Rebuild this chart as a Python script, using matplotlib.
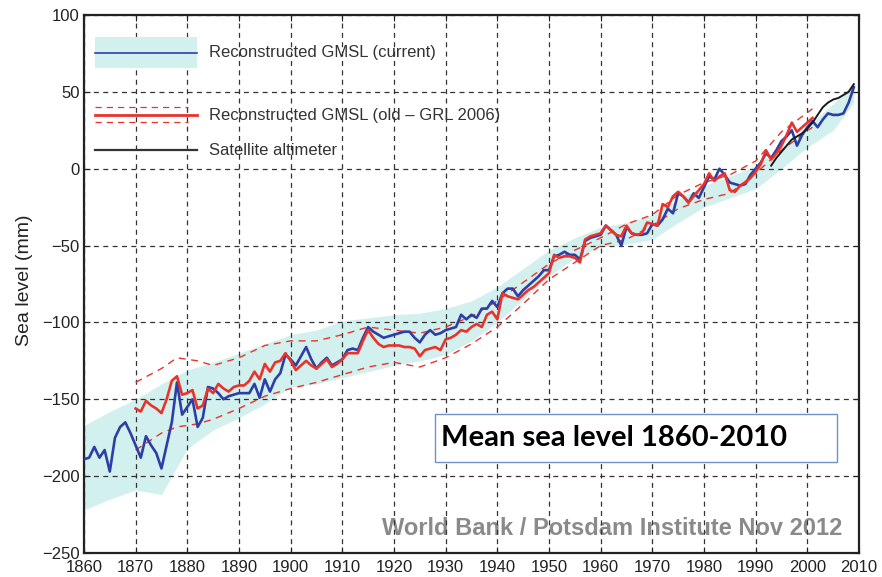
import matplotlib
matplotlib.use("Agg")
import matplotlib.pyplot as plt
from matplotlib.patches import Rectangle
import numpy as np

# current reconstruction (mm)
years_cur = list(range(1860, 2010))
gmsl_cur = [-189, -188, -181, -188, -183, -197, -175, -168, -165, -172,
            -180, -188, -174, -180, -185, -195, -180, -165, -139, -160,
            -155, -150, -168, -162, -142, -143, -146, -150, -148, -147,
            -146, -146, -146, -140, -149, -137, -145, -137, -133, -121,
            -124, -128, -122, -116, -124, -130, -126, -123, -128, -126,
            -124, -118, -117, -118, -110, -103, -106, -108, -110, -109,
            -108, -107, -106, -106, -110, -113, -108, -105, -108, -107,
            -105, -104, -103, -95, -98, -95, -97, -91, -91, -86,
            -90, -81, -78, -78, -83, -79, -76, -73, -70, -66,
            -66, -57, -56, -54, -56, -56, -59, -47, -45, -44,
            -43, -37, -40, -43, -50, -38, -42, -43, -43, -42,
            -36, -37, -33, -26, -29, -16, -18, -22, -16, -19,
            -12, -5, -7, 0, -4, -9, -10, -11, -10, -4,
            0, 4, 10, 7, 12, 18, 21, 25, 15, 22,
            27, 31, 27, 32, 36, 35, 35, 36, 43, 53]

# uncertainty band of the current reconstruction
band_years = [1860, 1865, 1870, 1875, 1880, 1885, 1890, 1895, 1900, 1905,
              1910, 1915, 1920, 1925, 1930, 1935, 1940, 1945, 1950, 1955,
              1960, 1965, 1970, 1975, 1980, 1985, 1990, 1995, 2000, 2005, 2009]
band_upper = [-167, -158, -150, -140, -131, -126, -120, -114, -108, -105,
              -99, -97, -95, -94, -91, -86, -77, -65, -53, -45,
              -38, -35, -30, -20, -11, -5, 2, 14, 28, 42, 56]
band_lower = [-222, -215, -209, -212, -182, -170, -162, -153, -142, -140,
              -136, -132, -128, -125, -121, -112, -100, -85, -70, -58,
              -51, -49, -46, -35, -25, -19, -13, 0, 14, 25, 43]

# old reconstruction (GRL 2006)
years_old = list(range(1870, 2002))
gmsl_old = [-156, -158, -151, -154, -156, -159, -150, -138, -135, -147,
            -146, -144, -156, -154, -143, -146, -140, -143, -145, -142,
            -141, -141, -138, -132, -137, -127, -132, -126, -125, -120,
            -125, -131, -128, -125, -128, -130, -127, -124, -129, -127,
            -124, -120, -120, -120, -112, -105, -110, -114, -116, -115,
            -115, -115, -116, -116, -117, -122, -118, -117, -116, -118,
            -111, -110, -108, -105, -106, -103, -101, -103, -95, -93,
            -98, -81, -83, -84, -85, -82, -79, -77, -74, -71,
            -68, -56, -58, -57, -57, -58, -61, -46, -44, -43,
            -42, -37, -40, -43, -44, -37, -42, -43, -42, -35,
            -36, -37, -23, -25, -18, -15, -18, -22, -18, -14,
            -10, -3, -8, -5, -3, -14, -15, -11, -9, -6,
            -2, 3, 12, 6, 10, 15, 22, 30, 24, 27,
            30, 33]

env_years = [1870, 1875, 1878, 1882, 1885, 1890, 1895, 1900, 1905, 1910,
             1915, 1920, 1925, 1930, 1935, 1940, 1945, 1950, 1955, 1960,
             1965, 1970, 1975, 1980, 1985, 1990, 1995, 2001]
env_upper = [-139, -130, -123, -125, -128, -123, -115, -112, -112, -108,
             -103, -105, -107, -103, -96, -86, -74, -62, -53, -45,
             -36, -30, -17, -9, -4, 5, 24, 39]
env_lower = [-183, -172, -168, -166, -163, -156, -148, -143, -139, -134,
             -129, -126, -129, -123, -114, -103, -88, -72, -61, -50,
             -46, -37, -26, -20, -16, -3, 12, 27]

# satellite altimetry
years_sat = list(range(1993, 2010))
gmsl_sat = [2, 7, 11, 15, 19, 21, 23, 26, 30, 35, 40, 43, 45, 46, 48, 50, 55]

yticks = [100, 50, 0, -50, -100, -150, -200, -250]
xticks = list(range(1860, 2011, 10))

plt.rcParams['font.family'] = ['Liberation Sans', 'DejaVu Sans']
plt.rcParams['axes.unicode_minus'] = True

BAND = '#d2f0ee'
BLUE = '#2d3fa6'
RED = '#e8332b'

fig = plt.figure(figsize=(8.82, 5.77), dpi=100)
ax = fig.add_axes([0.0952, 0.0416, 0.8787, 0.9324])

ax.fill_between(band_years, band_lower, band_upper, color=BAND, lw=0, zorder=1)
ax.plot(env_years, env_upper, color=RED, lw=1.0, ls=(0, (5, 4)), zorder=2)
ax.plot(env_years, env_lower, color=RED, lw=1.0, ls=(0, (5, 4)), zorder=2)
ax.plot(years_cur, gmsl_cur, color=BLUE, lw=1.9, zorder=3)
ax.plot(years_old, gmsl_old, color=RED, lw=1.9, zorder=3.5)
ax.plot(years_sat, gmsl_sat, color='#1a1a1a', lw=1.4, zorder=4)

ax.set_xlim(1860, 2010)
ax.set_ylim(-250, 100)
ax.set_xticks(xticks)
ax.set_yticks(yticks)
ax.tick_params(direction='in', top=True, right=True, labelsize=12,
               colors='#222222', length=4)
ax.tick_params(axis='x', pad=5)
ax.tick_params(axis='y', pad=3)
ax.set_axisbelow('line')
ax.grid(True, color='#333333', lw=0.9, ls=(0, (4, 3.5)))
for s in ax.spines.values():
    s.set_linewidth(1.6)
    s.set_color('#222222')
ax.set_ylabel('Sea level (mm)', fontsize=14, color='#222222')
ax.yaxis.set_label_coords(-0.066, 0.507)

# legend, drawn by hand so the rows keep their own spacing
tr = ax.transAxes
ax.add_patch(Rectangle((0.0142, 0.9015), 0.1316, 0.0575, transform=tr,
                       facecolor=BAND, edgecolor='none', zorder=5))
ax.plot([0.0142, 0.1458], [0.9294, 0.9294], transform=tr, color=BLUE, lw=1.2, zorder=6)
ax.plot([0.0142, 0.1458], [0.8141, 0.8141], transform=tr, color=RED, lw=2.0, zorder=6)
for yy in (0.829, 0.8011):
    ax.plot([0.0142, 0.1342], [yy, yy], transform=tr, color=RED, lw=0.9,
            ls=(0, (5, 4)), zorder=6)
ax.plot([0.0142, 0.1458], [0.749, 0.749], transform=tr, color='#333333', lw=1.6, zorder=6)
leg_labels = ['Reconstructed GMSL (current)',
              'Reconstructed GMSL (old \u2013 GRL 2006)',
              'Satellite altimeter']
for yy, lab in zip((0.9294, 0.8141, 0.749), leg_labels):
    ax.text(0.1613, yy, lab, transform=tr, fontsize=12, color='#333333',
            va='center', ha='left', zorder=6)

# title box and source note
ax.text(0.9546, 0.0849, 'World Bank / Potsdam Institute Nov 2012',
        transform=fig.transFigure, fontsize=17, fontweight='bold',
        color='#8a8a8a', ha='right', va='center', zorder=0.5)
fig.patches.append(Rectangle((0.4932, 0.1993), 0.4558, 0.0832,
                             transform=fig.transFigure, facecolor='white',
                             edgecolor='#6f93c9', lw=1.0, zorder=10))
fig.text(0.5, 0.2409, 'Mean sea level 1860-2010', fontsize=21,
         fontweight='bold', family='Lato', color='black',
         ha='left', va='center', zorder=11)

fig.savefig('out.png', dpi=100)
